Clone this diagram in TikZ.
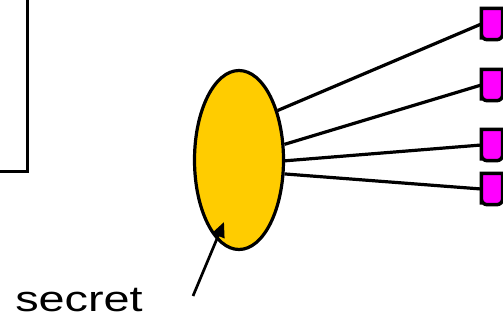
\documentclass[tikz,border=0pt]{standalone}
\usepackage{fontspec}
\setmainfont{Liberation Sans}
\definecolor{keyyellow}{RGB}{255,204,0}
\definecolor{portpink}{RGB}{255,0,255}
\usetikzlibrary{positioning, arrows.meta, calc, shapes.geometric}
\tikzset{
  keyblob/.style={ellipse, draw, line width=3.2pt, fill=keyyellow, minimum width=89pt, minimum height=179pt},
  port/.style={rectangle, minimum width=21pt, minimum height=31pt, inner sep=0pt},
  portline/.style={line width=3.5pt, draw=black, fill=portpink},
  wire/.style={line width=3.2pt},
  pointer/.style={-{Triangle[length=15pt, width=13pt]}, line width=2.7pt}
}

\begin{document}
\begin{tikzpicture}[x=1pt, y=-1pt]
        \useasboundingbox (0,0) rectangle (503,322);
        \draw[line width=3.2pt] (-10,-10) rectangle (27.5,171.5);
        \node[keyblob] (key) at (239,160) {};
        \node[port] (p1) at (492,24) {};
        \node[port] (p2) at (492,85) {};
        \node[port] (p3) at (492,145) {};
        \node[port] (p4) at (492,189) {};
        \foreach \p in {p1,p2,p3,p4}
          \draw[portline] (\p.south west) -- (\p.north west) -- (\p.north east) [rounded corners=6pt] -- (\p.south east) -- (\p.south west) [sharp corners] -- cycle;
        \draw[wire] (key.52) -- (p1.west);
        \draw[wire] (key.19) -- (p2.west);
        \draw[wire] (key.-1) -- (p3.west);
        \draw[wire] (key.-17) -- (p4.west);
        \node[inner sep=0pt, anchor=base west, font=\fontsize{36}{40}\selectfont, xscale=1.3, transform shape] (secretlbl) at (15,311) {secret};
        \coordinate (tail) at (193,296);
        \coordinate (tip) at ($(key)+(-15,62)$);
        \draw[pointer] (tail) -- (tip);
      \end{tikzpicture}
\end{document}
